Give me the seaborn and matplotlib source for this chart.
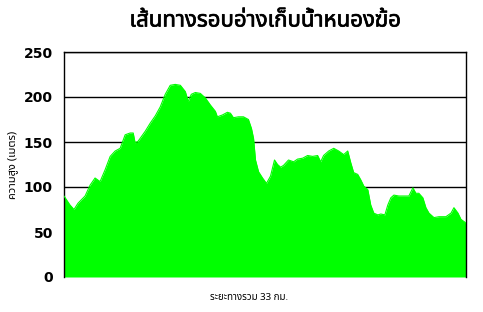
import matplotlib
matplotlib.use("Agg")
import matplotlib.pyplot as plt
import matplotlib.patheffects as pe
import seaborn as sns
import pandas as pd
from matplotlib import font_manager as fm

distance_km = [0.00, 0.49, 0.82, 1.15, 1.73, 2.14, 2.55, 2.96, 3.37, 3.79, 4.20, 4.61, 5.02, 5.43,
               5.68, 5.84, 6.09, 6.67, 7.08, 7.49, 7.90, 8.31, 8.72, 9.13, 9.55, 9.96, 10.20, 10.45,
               10.78, 11.19, 11.60, 12.02, 12.43, 12.59, 13.00, 13.41, 13.66, 13.91, 14.32, 14.73,
               15.14, 15.39, 15.56, 15.72, 15.97, 16.30, 16.62, 16.95, 17.28, 17.53, 17.78, 18.02,
               18.43, 18.85, 19.17, 19.59, 20.00, 20.41, 20.82, 21.07, 21.31, 21.73, 22.14, 22.55,
               22.96, 23.29, 23.54, 23.78, 24.11, 24.36, 24.61, 24.94, 25.18, 25.43, 25.76, 26.01,
               26.34, 26.58, 26.83, 27.08, 27.49, 27.90, 28.31, 28.64, 28.89, 29.13, 29.46, 29.71,
               29.96, 30.37, 30.78, 31.35, 31.77, 32.01, 32.34, 32.59, 33.00]
elevation_m = [90, 80, 75, 82, 90, 102, 110, 106, 119, 134, 140, 143, 158, 160,
               160, 149, 151, 162, 171, 179, 189, 203, 213, 214, 213, 206, 195, 203,
               205, 204, 199, 191, 184, 178, 180, 183, 182, 177, 178, 178,
               175, 165, 154, 130, 117, 110, 104, 112, 130, 125, 122, 124,
               130, 128, 131, 132, 135, 134, 135, 128, 135, 140, 143, 140,
               136, 140, 127, 116, 114, 108, 101, 97, 80, 71, 69, 70,
               69, 80, 88, 91, 90, 90, 90, 99, 93, 93, 88, 77,
               71, 66, 67, 67, 71, 77, 71, 64, 60]
y_ticks = [0, 50, 100, 150, 200, 250]

title_text = "เส้นทางรอบอ่างเก็บน้ำหนองฆ้อ"
ylabel_text = "ความสูง (เมตร)"
xlabel_text = "ระยะทางรวม 33 กม."

df = pd.DataFrame({"km": distance_km, "elev": elevation_m})

sns.set_theme(style="white")
names = {f.name for f in fm.fontManager.ttflist}
thai_candidates = ["Noto Sans Thai", "Noto Sans Thai UI", "Loma", "Garuda", "Tlwg Typo", "Sarabun",
                   "Noto Serif Thai", "Norasi", "Kinnari"]
fam = [f for f in thai_candidates if f in names] + ["DejaVu Sans"]
plt.rcParams["font.family"] = fam

fig = plt.figure(figsize=(4.83, 3.12), dpi=100)
ax = fig.add_axes([64/483, 1-277/312, 402/483, 225/312])

ax.fill_between(df["km"], df["elev"], 0, color="#00ff00", linewidth=0, zorder=2)
sns.lineplot(data=df, x="km", y="elev", color="#00ff00", linewidth=0.8, ax=ax, zorder=3)

ax.set_xlim(0, 33)
ax.set_ylim(0, 250)
ax.set_yticks(y_ticks)
ax.set_yticklabels([str(t) for t in y_ticks], fontweight="bold", fontsize=10, color="black",
                   family="DejaVu Sans")
ax.set_xticks([])
ax.tick_params(axis="y", length=0, pad=8)
ax.yaxis.grid(True, color="black", linewidth=1)
ax.set_axisbelow(True)
for s in ["left", "top", "right"]:
    ax.spines[s].set_color("black")
    ax.spines[s].set_linewidth(1)
ax.spines["bottom"].set_visible(False)
ax.set_xlabel("")
ax.set_ylabel(ylabel_text, fontsize=8, color="black")
ax.yaxis.set_label_coords(-0.115, 0.5)

fig.text(265/483, 1-21/312, title_text, ha="center", va="center", fontsize=16, fontweight="bold",
         color="black", path_effects=[pe.withStroke(linewidth=0.5, foreground="black")])
fig.text(249/483, 1-298/312, xlabel_text, ha="center", va="center", fontsize=7, color="black")

fig.savefig("out.png", dpi=100, facecolor="white")
